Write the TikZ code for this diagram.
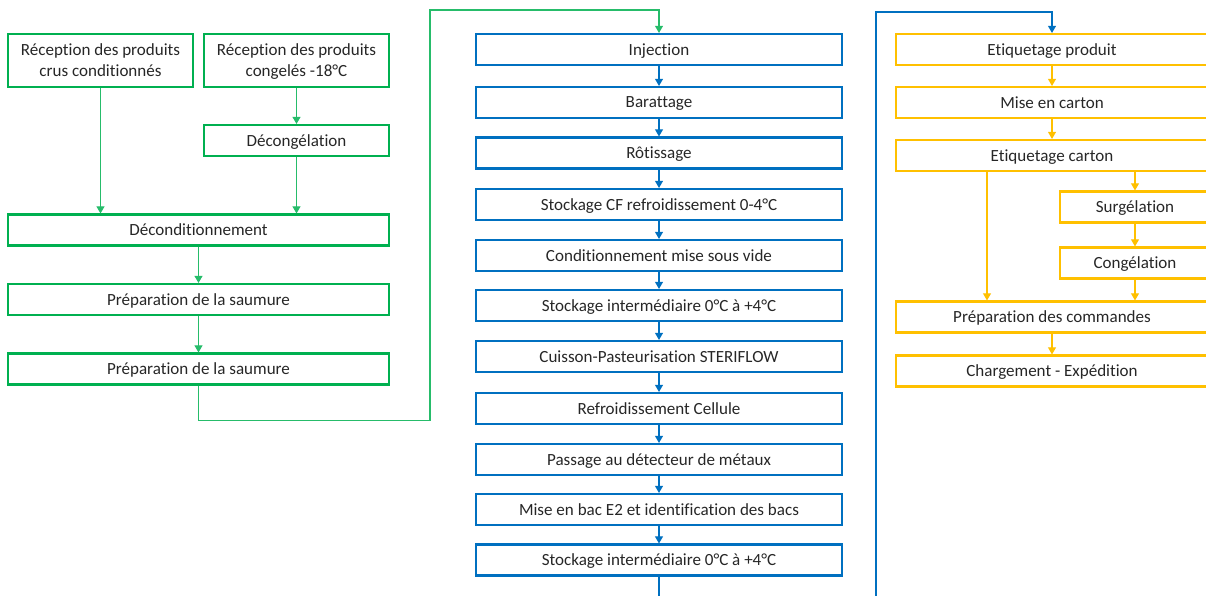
\documentclass[tikz,border=0pt]{standalone}
\usepackage{fontspec}
\setmainfont{Carlito}[Ligatures=NoCommon]
\usetikzlibrary{arrows.meta}
\definecolor{vert}{HTML}{00B050}
\definecolor{bleu}{HTML}{0070C0}
\definecolor{jaune}{HTML}{FFC000}
\begin{document}
\begin{tikzpicture}
    [x=0.02cm,y=-0.02cm,
    etape/.style={draw,line width=1.2pt,inner sep=0pt,align=center,text depth=0pt,
      text=black!85,font=\fontsize{9.7}{12}\selectfont,minimum height=0.62cm},
    vbox/.style={etape,draw=vert},
    bbox/.style={etape,draw=bleu,minimum width=7.32cm},
    jbox/.style={etape,draw=jaune,minimum width=6.24cm},
    lien/.style={line width=0.6pt,-{Triangle[width=4.5pt,length=4pt]}},
    vlien/.style={lien,vert!85},
    blien/.style={lien,bleu},
    jlien/.style={lien,jaune}]
    \useasboundingbox (0,0) rectangle (1206,595);
    \clip (0,0) rectangle (1206,595);
    %reception et preparation
    \node[vbox,minimum width=3.7cm,minimum height=1.06cm] (crus) at (100.5,60.5)
      {Réception des produits\\crus conditionnés};
    \node[vbox,minimum width=3.7cm,minimum height=1.06cm] (cong) at (296.5,60.5)
      {Réception des produits\\congelés -18°C};
    \node[vbox,minimum width=3.7cm] (decong) at (296.5,140.5) {Décongélation};
    \node[vbox,minimum width=7.62cm] (decond) at (198.5,230) {Déconditionnement};
    \node[vbox,minimum width=7.62cm] (saum1) at (198.5,299.5) {Préparation de la saumure};
    \node[vbox,minimum width=7.62cm] (saum2) at (198.5,369) {Préparation de la saumure};
    %fabrication
    \node[bbox] (inj) at (659,49.5) {Injection};
    \node[bbox] (bar) at (659,102.5) {Barattage};
    \node[bbox] (rot) at (659,153) {Rôtissage};
    \node[bbox] (stcf) at (659,204.5) {Stockage CF refroidissement 0-4°C};
    \node[bbox] (cond) at (659,255.5) {Conditionnement mise sous vide};
    \node[bbox] (sti1) at (659,305.5) {Stockage intermédiaire 0°C à +4°C};
    \node[bbox] (cuis) at (659,356.5) {Cuisson-Pasteurisation STERIFLOW};
    \node[bbox] (refr) at (659,408.5) {Refroidissement Cellule};
    \node[bbox] (det) at (659,459.5) {Passage au détecteur de métaux};
    \node[bbox] (bac) at (659,509.5) {Mise en bac E2 et identification des bacs};
    \node[bbox] (sti2) at (659,560) {Stockage intermédiaire 0°C à +4°C};
    %expedition
    \node[jbox] (etprod) at (1052,49.5) {Etiquetage produit};
    \node[jbox] (carton) at (1052,102.5) {Mise en carton};
    \node[jbox] (etcart) at (1052,155.5) {Etiquetage carton};
    \node[jbox,minimum width=3cm] (surg) at (1135,207) {Surgélation};
    \node[jbox,minimum width=3cm] (congel) at (1135,263) {Congélation};
    \node[jbox] (prep) at (1052,317) {Préparation des commandes};
    \node[jbox] (charg) at (1052,371) {Chargement - Expédition};
    %points de passage
    \coordinate (vhaut) at (430,10);
    \coordinate (bbas) at (659,600);
    \coordinate (bmont) at (876,600);
    \coordinate (bhaut) at (876,12);
    \coordinate (jdirect) at (987,0);
    %liens vert
    \draw[vlien] (crus.south) -- (crus.south |- decond.north);
    \draw[vlien] (cong) -- (decong);
    \draw[vlien] (decong.south) -- (decong.south |- decond.north);
    \draw[vlien] (decond) -- (saum1);
    \draw[vlien] (saum1) -- (saum2);
    \draw[vlien] (saum2.south) -- ++(0,35) -| (vhaut) -| (inj.north);
    %liens bleu
    \draw[blien] (inj) -- (bar);
    \draw[blien] (bar) -- (rot);
    \draw[blien] (rot) -- (stcf);
    \draw[blien] (stcf) -- (cond);
    \draw[blien] (cond) -- (sti1);
    \draw[blien] (sti1) -- (cuis);
    \draw[blien] (cuis) -- (refr);
    \draw[blien] (refr) -- (det);
    \draw[blien] (det) -- (bac);
    \draw[blien] (bac) -- (sti2);
    \draw[line width=0.6pt,bleu] (sti2) -- (bbas);
    \draw[blien] (bmont) -- (bhaut) -| (etprod.north);
    %liens jaune
    \draw[jlien] (etprod) -- (carton);
    \draw[jlien] (carton) -- (etcart);
    \draw[jlien] (etcart.south -| surg) -- (surg);
    \draw[jlien] (surg) -- (congel);
    \draw[jlien] (congel) -- (prep.north -| congel);
    \draw[jlien] (etcart.south -| jdirect) -- (prep.north -| jdirect);
    \draw[jlien] (prep) -- (charg);
\end{tikzpicture}
\end{document}
